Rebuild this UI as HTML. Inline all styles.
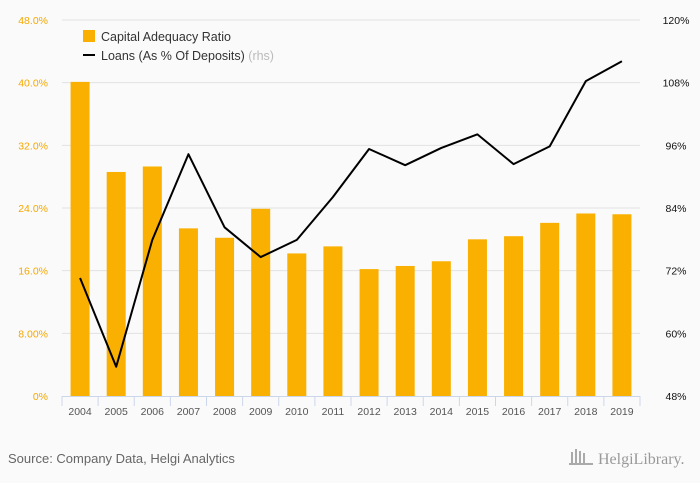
<!DOCTYPE html>
<html><head><meta charset="utf-8"><style>
html,body{margin:0;padding:0;background:#fafafa;}
svg{display:block;font-family:"Liberation Sans",sans-serif;}
</style></head><body>
<svg id="chart" width="700" height="483" viewBox="0 0 700 483">
<rect x="0" y="0" width="700" height="483" fill="#fafafa"/>
<g id="grid"></g><g id="bars"></g><g id="line"></g><g id="axes"></g>
<g>
<rect x="83" y="30" width="12" height="12" fill="#f9b000"/>
<text x="101" y="41" font-size="12.5" fill="#333">Capital Adequacy Ratio</text>
<rect x="83" y="54" width="12" height="2" fill="#000"/>
<text x="101" y="60" font-size="12.5" fill="#333">Loans (As % Of Deposits) <tspan fill="#bbb">(rhs)</tspan></text>
</g>
<text x="8" y="463" font-size="13" fill="#666">Source: Company Data, Helgi Analytics</text>
<text x="598" y="464" font-size="16" fill="#999" font-family="Liberation Serif,serif">HelgiLibrary.</text>
<g fill="#aaa"><rect x="571" y="452" width="2" height="12"/><rect x="575" y="449" width="2" height="15"/><rect x="579" y="451" width="2" height="13"/><rect x="583" y="453" width="2" height="11"/><rect x="569" y="463" width="24" height="2"/></g>
</svg>
<script>
const categories=["2004","2005","2006","2007","2008","2009","2010","2011","2012","2013","2014","2015","2016","2017","2018","2019"];
const carValues=[40.1,28.6,29.3,21.4,20.2,23.9,18.2,19.1,16.2,16.6,17.2,20.0,20.4,22.1,23.3,23.2];
const loanValues=[70.6,53.6,77.9,94.3,80.3,74.6,77.9,86.1,95.3,92.2,95.5,98.1,92.4,95.8,108.3,112.1];
const leftTicks=[0,8,16,24,32,40,48];
const leftTickLabels=["0%","8.00%","16.0%","24.0%","32.0%","40.0%","48.0%"];
const rightTicks=[48,60,72,84,96,108,120];
const rightTickLabels=["48%","60%","72%","84%","96%","108%","120%"];
const NS="http://www.w3.org/2000/svg";
const X0=62,X1=640,Y0=396,Y1=20;
const bw=(X1-X0)/categories.length;
const xC=i=>X0+bw*(i+0.5);
const yL=v=>Y0-(v-0)/(48-0)*(Y0-Y1);
const yR=v=>Y0-(v-48)/(120-48)*(Y0-Y1);
function mk(tag,attrs,parent){const e=document.createElementNS(NS,tag);for(const k in attrs)e.setAttribute(k,attrs[k]);document.getElementById(parent).appendChild(e);return e;}
leftTicks.forEach((t,i)=>{
  if(t>0){const g=mk('line',{x1:X0,x2:X1,y1:yL(t),y2:yL(t),stroke:'#e2e2e2','stroke-width':1},'grid');
  
  }
  const l=mk('text',{x:48,y:yL(t)+4,'font-size':10.5,fill:'#f5a800','text-anchor':'end'},'axes');l.textContent=leftTickLabels[i];
  
  
});
rightTicks.forEach((t,i)=>{
  const l=mk('text',{x:676,y:yR(t)+4,'font-size':10.5,fill:'#111','text-anchor':'middle'},'axes');l.textContent=rightTickLabels[i];
  
  
});
const ax=mk('line',{x1:X0,x2:X1,y1:Y0+0.5,y2:Y0+0.5,stroke:'#ccd6eb'},'axes');


for(let i=0;i<=categories.length;i++){const t=mk('line',{x1:X0+bw*i,x2:X0+bw*i,y1:Y0,y2:Y0+10,stroke:'#ccd6eb'},'axes');
  
  }
categories.forEach((c,i)=>{
  const l=mk('text',{x:xC(i),y:Y0+19,'font-size':10.5,fill:'#555','text-anchor':'middle'},'axes');l.textContent=c;
  
  
  const b=mk('rect',{x:xC(i)-9.5,y:yL(carValues[i]),width:19,height:Y0-yL(carValues[i]),fill:'#f9b000'},'bars');
  
  
});
const p=mk('polyline',{points:loanValues.map((v,i)=>xC(i)+','+yR(v)).join(' '),fill:'none',stroke:'#000','stroke-width':2,'stroke-linejoin':'round'},'line');


</script>
</body></html>
